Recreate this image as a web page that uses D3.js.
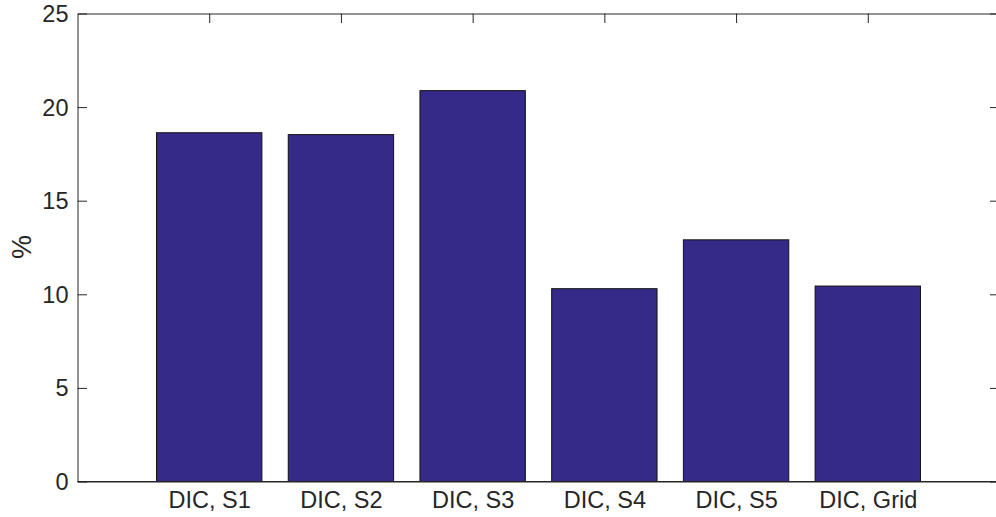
<!DOCTYPE html>
<html>
<head>
<meta charset="utf-8">
<script src="https://cdn.jsdelivr.net/npm/d3@7"></script>
<style>
  html, body { margin: 0; padding: 0; background: #fff; }
  svg { display: block; font-family: "Liberation Sans", Arial, Helvetica, sans-serif; }
</style>
</head>
<body>
<svg id="chart" width="996" height="517"></svg>
<script>
const categories = ["DIC, S1", "DIC, S2", "DIC, S3", "DIC, S4", "DIC, S5", "DIC, Grid"];
const values = [18.63, 18.53, 20.88, 10.30, 12.91, 10.44];
const yTicks = [0, 5, 10, 15, 20, 25];
const yLabel = "%";

const svg = d3.select("#chart");
const pLeft = 77.5, pRight = 999.5, pTop = 13.5, pBottom = 481.5;
const x = d3.scaleLinear().domain([0, categories.length + 1]).range([pLeft, pRight]);
const y = d3.scaleLinear().domain([0, 25]).range([pBottom, pTop]);
const positions = categories.map((c, i) => i + 1);
const barW = 0.8;
const axisColor = "#262626";
const tickLen = 9.5;

// bottom axis (ticks inside, behind bars)
const gB = svg.append("g").attr("transform", `translate(0,${pBottom})`)
  .call(d3.axisBottom(x).tickValues(positions).tickSizeInner(-tickLen).tickSizeOuter(0)
    .tickPadding(10).tickFormat((d, i) => categories[i]));
// top axis
const gT = svg.append("g").attr("transform", `translate(0,${pTop})`)
  .call(d3.axisTop(x).tickValues(positions).tickSizeInner(-tickLen).tickSizeOuter(0).tickFormat(""));
// left axis
const gL = svg.append("g").attr("transform", `translate(${pLeft},0)`)
  .call(d3.axisLeft(y).tickValues(yTicks).tickSizeInner(-tickLen).tickSizeOuter(0).tickPadding(9));
// right axis
const gR = svg.append("g").attr("transform", `translate(${pRight},0)`)
  .call(d3.axisRight(y).tickValues(yTicks).tickSizeInner(-tickLen).tickSizeOuter(0).tickFormat(""));

[gB, gT, gL, gR].forEach(g => {
  g.selectAll("path.domain").attr("stroke", axisColor).attr("stroke-width", 1);
  g.selectAll(".tick line").attr("stroke", axisColor).attr("stroke-width", 1);
  g.selectAll(".tick text").attr("fill", "#262626").style("font-size", "23.5px")
    .style("font-family", '"Liberation Sans", Arial, sans-serif');
});
gB.selectAll(".tick text").attr("dy", "0.71em").attr("y", 10);
gL.selectAll(".tick text").attr("dy", "0.34em");

// bars
svg.append("g").selectAll("rect").data(values).join("rect")
  .attr("x", (d, i) => x(positions[i] - barW / 2))
  .attr("width", (d, i) => x(positions[i] + barW / 2) - x(positions[i] - barW / 2))
  .attr("y", d => y(d))
  .attr("height", d => y(0) - y(d))
  .attr("fill", "#352a87")
  .attr("stroke", "#111")
  .attr("stroke-width", 1);

// redraw bottom axis line on top of bars
svg.append("line").attr("x1", pLeft).attr("x2", pRight).attr("y1", pBottom).attr("y2", pBottom)
  .attr("stroke", axisColor).attr("stroke-width", 1);

// y label
svg.append("text")
  .attr("transform", `translate(31,247) rotate(-90)`)
  .attr("text-anchor", "middle")
  .style("font-size", "27px")
  .attr("fill", "#262626")
  .text(yLabel);
</script>
</body>
</html>
